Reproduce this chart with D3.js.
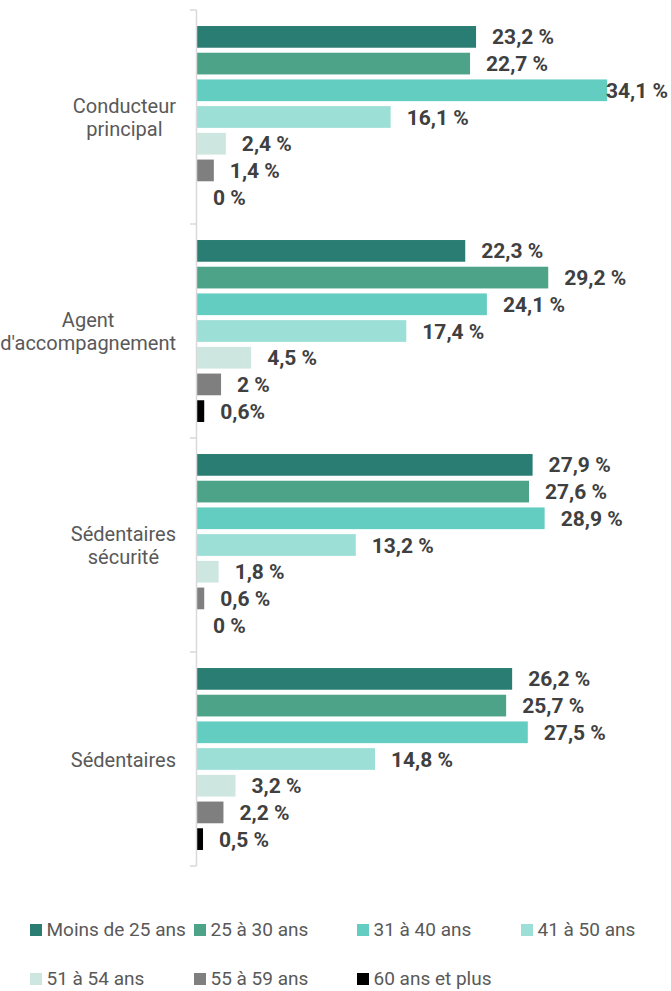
<!DOCTYPE html>
<html lang="fr">
<head>
  <meta charset="UTF-8">
  <title>Répartition par âge</title>
  <style>
    body { margin: 0; background: #fff; }
    svg { display: block; }
    text { font-family: "Roboto", "Noto Sans", sans-serif; }
    .cat-label { fill: #595959; font-size: 20px; }
    .val-label { fill: #404040; font-size: 21px; font-weight: bold; }
    .legend text { fill: #595959; font-size: 19px; }
  </style>
</head>
<body>
  <svg id="chart"></svg>

  <script src="https://d3js.org/d3.v7.min.js"></script>
  <script>
    // --- données ---
    const categories = ["Conducteur principal", "Agent d'accompagnement", "Sédentaires sécurité", "Sédentaires"];
    const series = ["Moins de 25 ans", "25 à 30 ans", "31 à 40 ans", "41 à 50 ans", "51 à 54 ans", "55 à 59 ans", "60 ans et plus"];
    const colors = ["#297d72", "#4ca388", "#64cdc1", "#9cdfd6", "#cde6df", "#7f7f7f", "#000000"];

    // une ligne par catégorie, une valeur par tranche d'âge
    const conducteurPrincipal = [23.2, 22.7, 34.1, 16.1, 2.4, 1.4, 0];
    const agentAccompagnement = [22.3, 29.2, 24.1, 17.4, 4.5, 2, 0.6];
    const sedentairesSecurite = [27.9, 27.6, 28.9, 13.2, 1.8, 0.6, 0];
    const sedentaires = [26.2, 25.7, 27.5, 14.8, 3.2, 2.2, 0.5];
    const values = [conducteurPrincipal, agentAccompagnement, sedentairesSecurite, sedentaires];

    // étiquette écrite sans espace dans l'original
    const labelOverrides = { "1-6": "0,6%" };

    const width = 671, height = 991;
    const svg = d3.select("#chart").attr("width", width).attr("height", height);

    const x = d3.scaleLinear().domain([0, 35]).range([197, 618]);
    const y = d3.scaleBand().domain(categories).range([10, 866]);
    const yInner = d3.scaleBand().domain(series).range([0, y.bandwidth()])
      .paddingInner(0.187).paddingOuter(0.6);

    const fmt = v => String(v).replace(".", ",") + " %";

    const rows = categories.map((c, ci) => ({ cat: c, ci, items: values[ci].map((v, si) => ({ v, si, ci })) }));

    // --- barres ---
    const groups = svg.append("g").selectAll("g")
      .data(rows)
      .join("g")
      .attr("transform", d => `translate(0,${y(d.cat)})`);

    groups.selectAll("rect")
      .data(d => d.items)
      .join("rect")
      .attr("x", x(0))
      .attr("y", d => yInner(series[d.si]))
      .attr("width", d => x(d.v) - x(0))
      .attr("height", yInner.bandwidth())
      .attr("fill", d => colors[d.si]);

    groups.selectAll("text")
      .data(d => d.items)
      .join("text")
      .attr("class", "val-label")
      .attr("y", d => yInner(series[d.si]) + yInner.bandwidth() / 2)
      .attr("dy", "0.36em")
      .text(d => labelOverrides[`${d.ci}-${d.si}`] || fmt(d.v))
      .attr("x", function(d) {
        const w = this.getComputedTextLength();
        return Math.min(x(d.v) + 16, width - 3 - w);
      });

    // --- axe vertical ---
    const axis = svg.append("g").attr("stroke", "#d9d9d9").attr("stroke-width", 1.5);
    axis.append("line")
      .attr("x1", x(0) - 0.5).attr("x2", x(0) - 0.5)
      .attr("y1", y.range()[0]).attr("y2", y.range()[1]);
    const bounds = categories.map(c => y(c)).concat([y.range()[1]]);
    axis.selectAll("line.tick")
      .data(bounds)
      .join("line")
      .attr("class", "tick")
      .attr("x1", x(0) - 7).attr("x2", x(0) - 0.5)
      .attr("y1", d => d).attr("y2", d => d);

    // --- libellés des catégories ---
    const lineH = 23.5;
    rows.forEach(r => {
      const lines = r.cat.split(" ");
      const cy = y(r.cat) + y.bandwidth() / 2;
      const g = svg.append("g");
      const texts = g.selectAll("text")
        .data(lines)
        .join("text")
        .attr("class", "cat-label")
        .attr("text-anchor", "middle")
        .attr("y", (d, i) => cy - (lines.length - 1) * lineH / 2 + i * lineH + 7.5)
        .text(d => d);
      const maxW = d3.max(texts.nodes(), n => n.getComputedTextLength());
      texts.attr("x", 176 - maxW / 2);
    });

    // --- légende ---
    const legendX = [30, 194, 357, 521];
    const legendY = [936, 985];
    const legend = svg.append("g").attr("class", "legend")
      .selectAll("g")
      .data(series)
      .join("g")
      .attr("transform", (d, i) => `translate(${legendX[i % 4]},${legendY[Math.floor(i / 4)]})`);
    legend.append("rect")
      .attr("x", 0).attr("y", -12)
      .attr("width", 12).attr("height", 12)
      .attr("fill", (d, i) => colors[i]);
    legend.append("text")
      .attr("x", 16.5)
      .attr("y", 0)
      .text(d => d);
  </script>
</body>
</html>
